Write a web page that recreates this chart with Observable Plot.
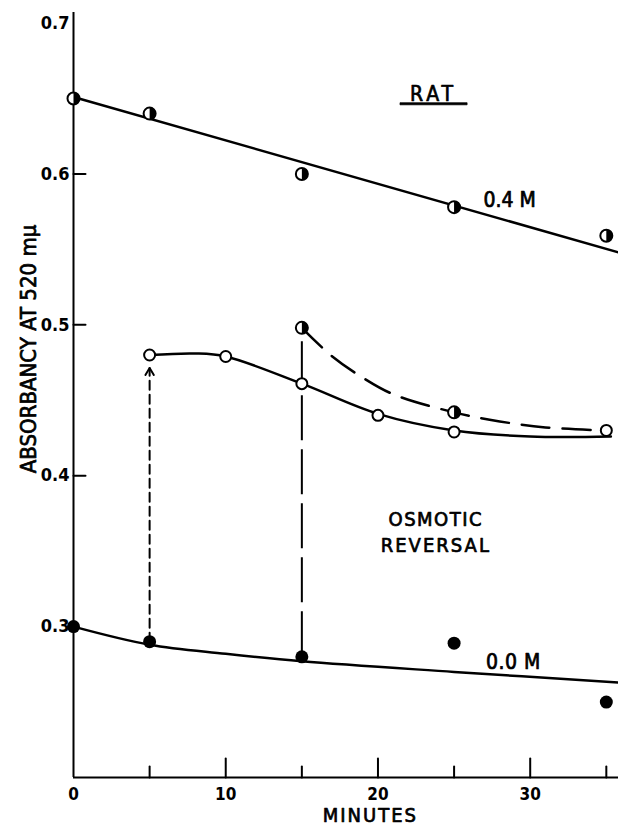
<!DOCTYPE html>
<html>
<head>
<meta charset="utf-8">
<script src="https://cdn.jsdelivr.net/npm/d3@7"></script>
<script src="https://cdn.jsdelivr.net/npm/@observablehq/plot@0.6"></script>
<style>
  body { margin: 0; background: #fff; }
  #chart svg text.underlined { text-decoration: underline; text-decoration-thickness: 3px; text-underline-offset: 4px; }
</style>
</head>
<body>
<div id="chart"></div>
<script>
// ---- data ----
// 0.4 M (half-filled circles)
const minutes04 = [0, 5, 15, 25, 35];
const abs04 = [0.650, 0.640, 0.600, 0.578, 0.559];
// straight line drawn through the 0.4 M points
const fit04Minutes = [0, 35.8];
const fit04Abs = [0.651, 0.548];

// 0.0 M (filled circles)
const minutes00 = [0, 5, 15, 25, 35];
const abs00 = [0.300, 0.290, 0.280, 0.289, 0.250];
// hand-drawn curve through the 0.0 M points
const fit00Minutes = [0, 5, 10, 15, 25, 35.8];
const fit00Abs = [0.300, 0.288, 0.282, 0.277, 0.270, 0.263];

// reversal transferred at 5 min (open circles)
const minutesRev5 = [5, 10, 15, 20, 25, 35];
const absRev5 = [0.480, 0.479, 0.461, 0.440, 0.429, 0.430];
const fitRev5Minutes = [5, 8, 10, 15, 20, 25, 30, 35.3];
const fitRev5Abs = [0.480, 0.481, 0.479, 0.461, 0.441, 0.430, 0.426, 0.426];

// reversal transferred at 15 min (half-filled circles, dashed curve)
const minutesRev15 = [15, 25];
const absRev15 = [0.498, 0.442];
const fitRev15Minutes = [15, 17, 19, 21, 25, 28, 31, 35];
const fitRev15Abs = [0.498, 0.479, 0.465, 0.454, 0.442, 0.436, 0.432, 0.430];

// axes
const xTickLabels = [0, 10, 20, 30];
const xTicksMajor = [10, 20, 30];
const xTicksMinor = [5, 15, 25, 35];
const yTickLabels = [0.3, 0.4, 0.5, 0.6, 0.7];
const yTicksMarked = [0.4, 0.5, 0.6];

// ---- build tables ----
const zip = (xs, ys) => xs.map((x, i) => ({x, y: ys[i]}));
const pts04 = zip(minutes04, abs04);
const line04 = zip(fit04Minutes, fit04Abs);
const pts00 = zip(minutes00, abs00);
const line00 = zip(fit00Minutes, fit00Abs);
const ptsRev5 = zip(minutesRev5, absRev5);
const lineRev5 = zip(fitRev5Minutes, fitRev5Abs);
const ptsRev15 = zip(minutesRev15, absRev15);
const lineRev15 = zip(fitRev15Minutes, fitRev15Abs);
const transfer5 = [{x: minutesRev5[0], from: abs00[minutes00.indexOf(minutesRev5[0])], to: absRev5[0]}];
const transfer15 = [{x: minutesRev15[0], from: abs00[minutes00.indexOf(minutesRev15[0])], to: absRev15[0]}];

const FONT = '"DejaVu Sans Condensed", "Liberation Sans Narrow", "DejaVu Sans", sans-serif';
const LW = 2.5;
const TXT = {fill: "black", stroke: "black", strokeWidth: 0.7, fontWeight: "normal"};

const halfRight = {
  draw(context, size) {
    const r = Math.sqrt(size / Math.PI);
    context.moveTo(0, -r);
    context.arc(0, 0, r, -Math.PI / 2, Math.PI / 2);
    context.closePath();
  }
};
const tickShape = {
  draw(context, l) { context.moveTo(0, 0); context.lineTo(0, -l); }
};
const headShape = {
  draw(context, l) { context.moveTo(-l * 0.6, 0); context.lineTo(0, -l); context.lineTo(l * 0.6, 0); }
};

const plot = Plot.plot({
  width: 618,
  height: 827,
  marginLeft: 73,
  marginRight: 0,
  marginTop: 12,
  marginBottom: 50,
  x: {domain: [0, 35.8]},
  y: {domain: [0.2, 0.707]},
  style: {fontFamily: FONT, color: "#000", background: "#fff"},
  marks: [
    // axis lines
    Plot.ruleX([0], {strokeWidth: 2}),
    Plot.ruleY([0.2], {strokeWidth: 2}),
    // inward ticks
    Plot.vector(xTicksMajor, {x: d => d, y: 0.2, length: 19, rotate: 0, anchor: "start", shape: tickShape, strokeWidth: 2, stroke: "black"}),
    Plot.vector(xTicksMinor, {x: d => d, y: 0.2, length: 11, rotate: 0, anchor: "start", shape: tickShape, strokeWidth: 2, stroke: "black"}),
    Plot.vector(yTicksMarked, {x: 0, y: d => d, length: 12, rotate: 90, anchor: "start", shape: tickShape, strokeWidth: 2, stroke: "black"}),
    // tick labels
    Plot.axisX(xTickLabels, {tickSize: 0, tickPadding: 10, fontSize: 17, fontWeight: "bold", label: null}),
    Plot.axisY(yTickLabels, {tickSize: 0, tickPadding: 4, fontSize: 18, fontWeight: "bold", tickFormat: ".1f", label: null}),
    // axis titles
    Plot.text(["MINUTES"], {x: 19.5, y: 0.2, dy: 38.5, fontSize: 20, text: d => d, ...TXT}),
    Plot.text(["ABSORBANCY AT 520 m\u03bc"], {frameAnchor: "left", textAnchor: "middle", y: 0.484, dx: -45, rotate: -90, fontSize: 22, text: d => d, ...TXT}),
    // fitted curves
    Plot.line(line04, {x: "x", y: "y", strokeWidth: LW}),
    Plot.line(line00, {x: "x", y: "y", curve: "catmull-rom", strokeWidth: LW}),
    Plot.line(lineRev5, {x: "x", y: "y", curve: "catmull-rom", strokeWidth: LW}),
    Plot.line(lineRev15, {x: "x", y: "y", curve: "catmull-rom", strokeWidth: LW, strokeDasharray: "28,13"}),
    // transfers
    Plot.arrow(transfer5, {x: "x", y1: "from", y2: "to", headLength: 0, insetEnd: 13, strokeWidth: 2, strokeDasharray: "9,5"}),
    Plot.vector(transfer5, {x: "x", y: "to", length: 7, rotate: 0, anchor: "end", dy: 13, shape: headShape, strokeWidth: 2, stroke: "black"}),
    Plot.ruleX(transfer15, {x: "x", y1: "from", y2: "to", strokeWidth: 2, strokeDasharray: "45,9"}),
    // points
    Plot.dot(pts04, {x: "x", y: "y", r: 6, fill: "white", stroke: "black", strokeWidth: 2}),
    Plot.dot(pts04, {x: "x", y: "y", r: 6, symbol: halfRight, fill: "black"}),
    Plot.dot(ptsRev15, {x: "x", y: "y", r: 6, fill: "white", stroke: "black", strokeWidth: 2}),
    Plot.dot(ptsRev15, {x: "x", y: "y", r: 6, symbol: halfRight, fill: "black"}),
    Plot.dot(pts00, {x: "x", y: "y", r: 6.5, fill: "black"}),
    Plot.dot(ptsRev5, {x: "x", y: "y", r: 5.5, fill: "white", stroke: "black", strokeWidth: 2}),
    // labels
    Plot.text(["\u00a0RAT\u00a0"], {x: 23.65, y: 0.653, fontSize: 21, text: d => d, ...TXT}),
    Plot.text(["0.4 M"], {x: 28.65, y: 0.5824, fontSize: 21, text: d => d, ...TXT}),
    Plot.text(["OSMOTIC", "REVERSAL"], {x: 23.8, y: (d, i) => [0.3706, 0.354][i], fontSize: 20, text: d => d, ...TXT}),
    Plot.text(["0.0 M"], {x: 28.9, y: 0.2765, fontSize: 21, text: d => d, ...TXT})
  ]
});

const spacing = {"RAT": "4px", "OSMOTIC": "1.5px", "REVERSAL": "2px", "0.0 M": "0.5px", "MINUTES": "2px"};
d3.select(plot).selectAll("text").each(function() {
  const t = this.textContent.trim();
  if (t === "RAT") this.classList.add("underlined");
  if (spacing[t]) this.style.letterSpacing = spacing[t];
});
document.getElementById("chart").appendChild(plot);
</script>
</body>
</html>
